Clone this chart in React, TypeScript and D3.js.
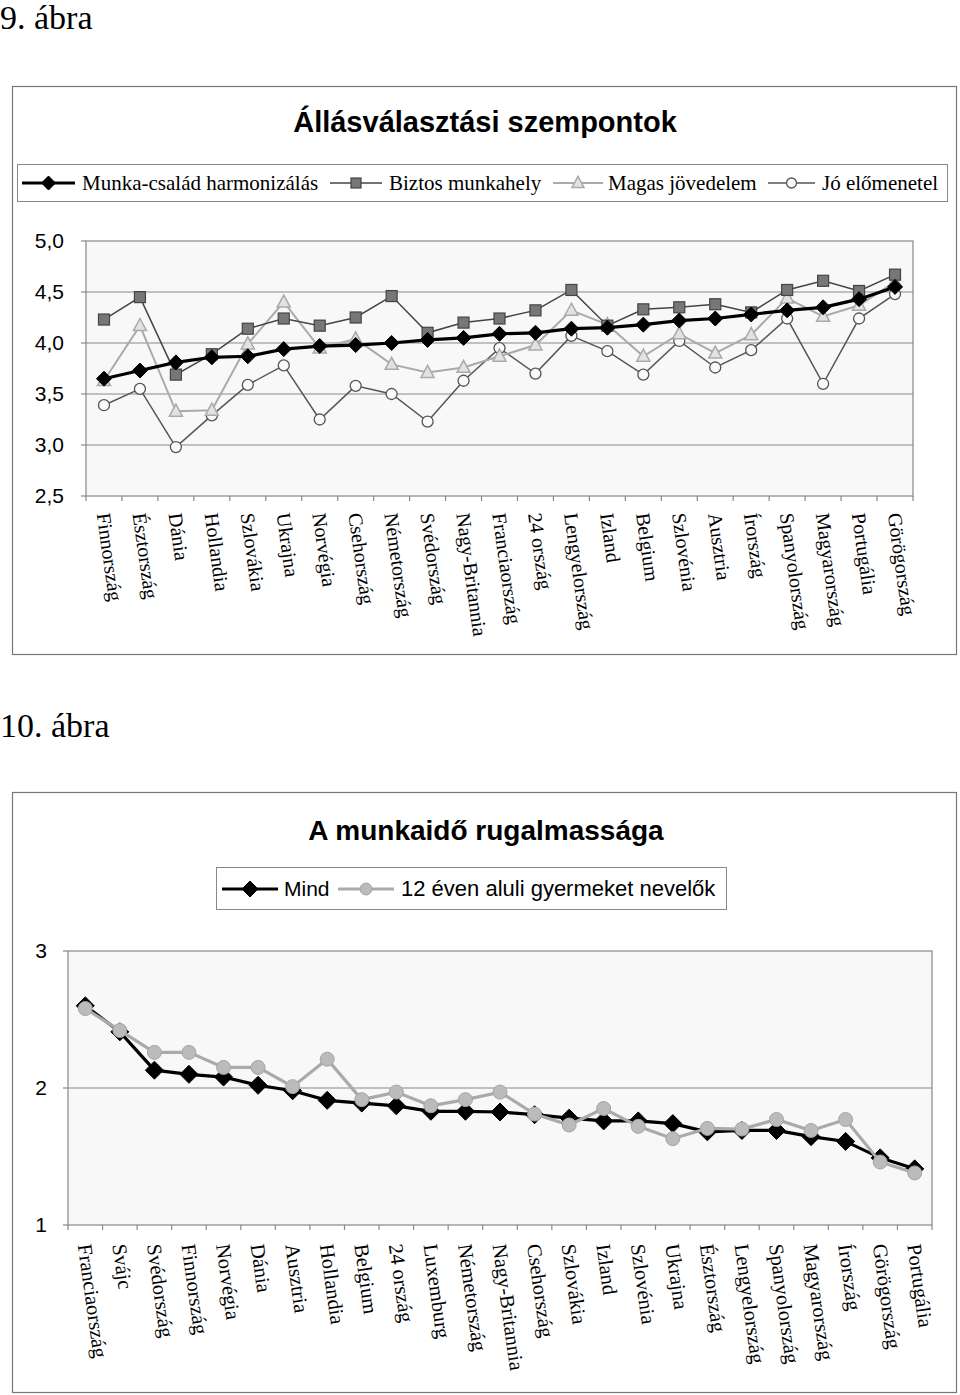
import React from "react";
import * as d3 from "d3";

const cats1 = ["Finnország","Észtország","Dánia","Hollandia","Szlovákia","Ukrajna","Norvégia","Csehország","Németország","Svédország","Nagy-Britannia","Franciaország","24 ország","Lengyelország","Izland","Belgium","Szlovénia","Ausztria","Írország","Spanyolország","Magyarország","Portugália","Görögország"];
const munka = [3.65,3.73,3.81,3.86,3.87,3.94,3.97,3.98,4.00,4.03,4.05,4.09,4.10,4.14,4.15,4.18,4.22,4.24,4.28,4.32,4.35,4.43,4.55];
const biztos = [4.23,4.45,3.69,3.89,4.14,4.24,4.17,4.25,4.46,4.10,4.20,4.24,4.32,4.52,4.17,4.33,4.35,4.38,4.30,4.52,4.61,4.51,4.67];
const magas = [3.63,4.17,3.33,3.34,3.99,4.40,3.95,4.04,3.79,3.71,3.76,3.87,3.98,4.32,4.18,3.87,4.09,3.90,4.08,4.44,4.26,4.37,4.60];
const jo = [3.39,3.55,2.98,3.29,3.59,3.78,3.25,3.58,3.50,3.23,3.63,3.95,3.70,4.07,3.92,3.69,4.02,3.76,3.93,4.24,3.60,4.24,4.48];
const ticks1 = [2.5,3.0,3.5,4.0,4.5,5.0];
const legend1 = ["Munka-család harmonizálás","Biztos munkahely","Magas jövedelem","Jó előmenetel"];

const cats2 = ["Franciaország","Svájc","Svédország","Finnország","Norvégia","Dánia","Ausztria","Hollandia","Belgium","24 ország","Luxemburg","Németország","Nagy-Britannia","Csehország","Szlovákia","Izland","Szlovénia","Ukrajna","Észtország","Lengyelország","Spanyolország","Magyarország","Írország","Görögország","Portugália"];
const mind = [2.60,2.41,2.13,2.10,2.08,2.02,1.98,1.91,1.89,1.87,1.83,1.83,1.825,1.805,1.78,1.76,1.76,1.74,1.68,1.69,1.69,1.645,1.61,1.49,1.41];
const gyerm = [2.58,2.42,2.26,2.26,2.15,2.15,2.01,2.21,1.915,1.97,1.87,1.915,1.97,1.81,1.73,1.85,1.72,1.63,1.705,1.70,1.77,1.69,1.77,1.46,1.38];
const ticks2 = [1,2,3];
const legend2 = ["Mind","12 éven aluli gyermeket nevelők"];

const SERIF = "'Liberation Serif','Times New Roman',serif";
const SANS = "'Liberation Sans',Arial,sans-serif";

function Marker({ kind, x, y, s }: { kind: string; x: number; y: number; s: number }) {
  if (kind === "diamond") {
    return <path d={`M${x},${y - s}L${x + s},${y}L${x},${y + s}L${x - s},${y}Z`} fill="#000" stroke="#000" strokeWidth={1} />;
  }
  if (kind === "square") {
    return <rect x={x - s} y={y - s} width={2 * s} height={2 * s} fill="#777" stroke="#444" strokeWidth={1.2} />;
  }
  if (kind === "triangle") {
    return <path d={`M${x},${y - s * 1.1}L${x + s},${y + s * 0.75}L${x - s},${y + s * 0.75}Z`} fill="#e2e2e2" stroke="#aaa" strokeWidth={1.5} />;
  }
  if (kind === "circle") {
    return <circle cx={x} cy={y} r={s} fill="#fafafa" stroke="#555" strokeWidth={1.3} />;
  }
  if (kind === "gcircle") {
    return <circle cx={x} cy={y} r={s} fill="#bbb" stroke="#a5a5a5" strokeWidth={1} />;
  }
  return null;
}

function Chart1() {
  const L = 86, R = 913, T = 241, B = 496;
  const x = d3.scaleBand<string>().domain(cats1).range([L, R]);
  const y = d3.scaleLinear().domain([2.5, 5]).range([B, T]);
  const cx = (c: string) => (x(c) as number) + x.bandwidth() / 2;
  const line = d3.line<number>().x((_, i) => cx(cats1[i])).y((d) => y(d));
  const series = [
    { data: jo, kind: "circle", color: "#555", w: 1.5, s: 5.5 },
    { data: magas, kind: "triangle", color: "#aaa", w: 2, s: 6.5 },
    { data: biztos, kind: "square", color: "#444", w: 1.5, s: 5.5 },
    { data: munka, kind: "diamond", color: "#000", w: 3.2, s: 7.5 },
  ];
  const legendItems = [
    { kind: "diamond", color: "#000", w: 3.2, s: 7, x0: 22, x1: 75, tx: 82 },
    { kind: "square", color: "#444", w: 1.5, s: 5, x0: 330, x1: 382, tx: 389 },
    { kind: "triangle", color: "#aaa", w: 2, s: 6, x0: 553, x1: 603, tx: 608 },
    { kind: "circle", color: "#555", w: 1.5, s: 5, x0: 768, x1: 815, tx: 822 },
  ];
  return (
    <g>
      <text x={0} y={29} fontFamily={SERIF} fontSize={34} fill="#000">9. ábra</text>
      <rect x={12.5} y={86.5} width={944} height={568} fill="#fff" stroke="#777" strokeWidth={1.2} />
      <text x={485} y={132} textAnchor="middle" fontFamily={SANS} fontWeight="bold" fontSize={29} fill="#000">Állásválasztási szempontok</text>
      <rect x={17.5} y={164.5} width={930} height={37} fill="#fff" stroke="#888" strokeWidth={1} />
      {legendItems.map((it, i) => (
        <g key={i}>
          <line x1={it.x0} x2={it.x1} y1={183} y2={183} stroke={it.color} strokeWidth={it.w} />
          <Marker kind={it.kind} x={(it.x0 + it.x1) / 2} y={183} s={it.s} />
          <text x={it.tx} y={190} fontFamily={SERIF} fontSize={21} fill="#000">{legend1[i]}</text>
        </g>
      ))}
      <rect x={L} y={T} width={R - L} height={B - T} fill="#f8f8f8" stroke="#888" strokeWidth={1.2} />
      {ticks1.map((t) => (
        <g key={t}>
          {t > 2.5 && t < 5 && <line x1={L} x2={R} y1={y(t)} y2={y(t)} stroke="#888" strokeWidth={1.2} />}
          <line x1={L - 5} x2={L} y1={y(t)} y2={y(t)} stroke="#888" strokeWidth={1.2} />
          <text x={64} y={y(t)} dy="0.35em" textAnchor="end" fontFamily={SANS} fontSize={21} fill="#000">{d3.format(".1f")(t).replace(".", ",")}</text>
        </g>
      ))}
      {cats1.map((c, i) => (
        <line key={"t" + i} x1={x(c) as number} x2={x(c) as number} y1={B} y2={B + 5} stroke="#888" strokeWidth={1.2} />
      ))}
      <line x1={R} x2={R} y1={B} y2={B + 5} stroke="#888" strokeWidth={1.2} />
      {series.map((s, k) => (
        <g key={k}>
          <path d={line(s.data) as string} fill="none" stroke={s.color} strokeWidth={s.w} />
          {s.data.map((v, i) => (
            <Marker key={i} kind={s.kind} x={cx(cats1[i])} y={y(v)} s={s.s} />
          ))}
        </g>
      ))}
      {cats1.map((c) => (
        <text key={c} transform={`translate(${cx(c) - 1},513) rotate(82)`} dy="0.32em" fontFamily={SERIF} fontSize={20} fill="#000">{c}</text>
      ))}
    </g>
  );
}

function Chart2() {
  const L = 68, R = 932, T = 951, B = 1225;
  const x = d3.scaleBand<string>().domain(cats2).range([L, R]);
  const y = d3.scaleLinear().domain([1, 3]).range([B, T]);
  const cx = (c: string) => (x(c) as number) + x.bandwidth() / 2;
  const line = d3.line<number>().x((_, i) => cx(cats2[i])).y((d) => y(d));
  return (
    <g>
      <text x={0} y={737} fontFamily={SERIF} fontSize={34} fill="#000">10. ábra</text>
      <rect x={12.5} y={792.5} width={944} height={600} fill="#fff" stroke="#777" strokeWidth={1.2} />
      <text x={486} y={840} textAnchor="middle" fontFamily={SANS} fontWeight="bold" fontSize={28} fill="#000">A munkaidő rugalmassága</text>
      <rect x={216.5} y={867.5} width={510} height={42} fill="#fff" stroke="#888" strokeWidth={1} />
      <line x1={222} x2={278} y1={889} y2={889} stroke="#000" strokeWidth={3.2} />
      <Marker kind="diamond" x={250} y={889} s={8} />
      <text x={284} y={896} fontFamily={SANS} fontSize={21} fill="#000">{legend2[0]}</text>
      <line x1={338} x2={394} y1={889} y2={889} stroke="#aaa" strokeWidth={3.2} />
      <Marker kind="gcircle" x={366} y={889} s={6} />
      <text x={401} y={896} fontFamily={SANS} fontSize={22} fill="#000">{legend2[1]}</text>
      <rect x={L} y={T} width={R - L} height={B - T} fill="#f8f8f8" stroke="#888" strokeWidth={1.2} />
      {ticks2.map((t) => (
        <g key={t}>
          {t > 1 && t < 3 && <line x1={L} x2={R} y1={y(t)} y2={y(t)} stroke="#888" strokeWidth={1.2} />}
          <line x1={L - 5} x2={L} y1={y(t)} y2={y(t)} stroke="#888" strokeWidth={1.2} />
          <text x={47} y={y(t)} dy="0.35em" textAnchor="end" fontFamily={SANS} fontSize={21} fill="#000">{t}</text>
        </g>
      ))}
      {cats2.map((c, i) => (
        <line key={"t" + i} x1={x(c) as number} x2={x(c) as number} y1={B} y2={B + 5} stroke="#888" strokeWidth={1.2} />
      ))}
      <line x1={R} x2={R} y1={B} y2={B + 5} stroke="#888" strokeWidth={1.2} />
      <path d={line(mind) as string} fill="none" stroke="#000" strokeWidth={3.2} />
      {mind.map((v, i) => <Marker key={"m" + i} kind="diamond" x={cx(cats2[i])} y={y(v)} s={9} />)}
      <path d={line(gyerm) as string} fill="none" stroke="#aaa" strokeWidth={3.2} />
      {gyerm.map((v, i) => <Marker key={"g" + i} kind="gcircle" x={cx(cats2[i])} y={y(v)} s={7} />)}
      {cats2.map((c) => (
        <text key={c} transform={`translate(${cx(c) - 1},1244) rotate(82)`} dy="0.32em" fontFamily={SERIF} fontSize={20.5} fill="#000">{c}</text>
      ))}
    </g>
  );
}

export default function App() {
  return (
    <svg width={960} height={1395} style={{ position: "absolute", left: 0, top: 0, background: "#fff" }}>
      <Chart1 />
      <Chart2 />
    </svg>
  );
}
